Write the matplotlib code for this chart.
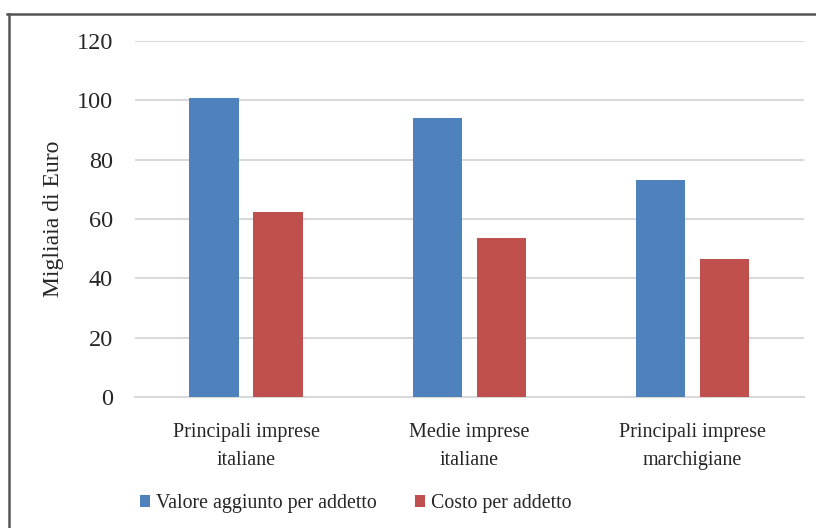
import matplotlib
matplotlib.use("Agg")
import matplotlib.pyplot as plt
from matplotlib.lines import Line2D
from matplotlib.patches import Patch
import numpy as np

categories = ["Principali imprese\nitaliane", "Medie imprese\nitaliane", "Principali imprese\nmarchigiane"]
series_names = ["Valore aggiunto per addetto", "Costo per addetto"]
valore_aggiunto = [100.7, 94.2, 73.2]
costo = [62.3, 53.6, 46.4]
y_ticks = [0, 20, 40, 60, 80, 100, 120]

blue = "#4F81BD"
red = "#C0504D"
serif = ["Liberation Serif", "DejaVu Serif"]

plt.rcParams["font.family"] = serif

fig = plt.figure(figsize=(8.16, 5.28), dpi=100)
ax = fig.add_axes([0.1654, 0.2481, 0.8199, 0.6742])

x = np.arange(len(categories))
w = 0.224
gap = 0.063
ax.bar(x - (w + gap) / 2, valore_aggiunto, width=w, color=blue, zorder=3)
ax.bar(x + (w + gap) / 2, costo, width=w, color=red, zorder=3)

ax.set_xlim(-0.5, len(categories) - 0.5)
ax.set_ylim(0, 120)
ax.set_yticks(y_ticks)
ax.set_yticklabels([str(t) for t in y_ticks], fontsize=17.5, color="#262626", family=serif)
ax.set_xticks(x)
ax.set_xticklabels(categories, fontsize=14.5, color="#262626", linespacing=1.6, family=serif)
ax.tick_params(axis="both", length=0)
ax.tick_params(axis="y", pad=16)
ax.tick_params(axis="x", pad=19)

for t in y_ticks[1:]:
    ax.axhline(t, color="#d9d9d9", linewidth=1.5, zorder=1)
for s in ["top", "right", "left"]:
    ax.spines[s].set_visible(False)
ax.spines["bottom"].set_color("#d9d9d9")
ax.spines["bottom"].set_linewidth(1.5)

ax.set_ylabel("Migliaia di Euro", fontsize=17, color="#262626", labelpad=9, family=serif)

handles = [Patch(facecolor=blue, label=series_names[0]),
           Patch(facecolor=red, label=series_names[1])]
fig.legend(handles=handles, loc="center", bbox_to_anchor=(0.436, 0.047), ncol=2,
           frameon=False, prop={"family": serif, "size": 14.3},
           handlelength=0.5, handleheight=0.55,
           handletextpad=0.3, columnspacing=1.9, labelcolor="#262626")

# page frame lines
fig.add_artist(Line2D([0.009, 1.0], [0.9735, 0.9735], color="#555555", linewidth=1.8))
fig.add_artist(Line2D([0.011, 0.011], [0.0, 0.9735], color="#555555", linewidth=1.8))

fig.savefig("out.png", dpi=100)
